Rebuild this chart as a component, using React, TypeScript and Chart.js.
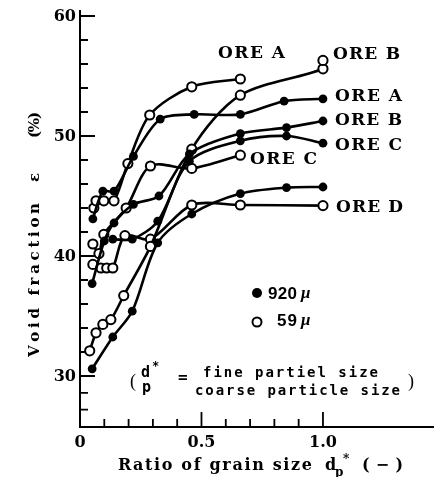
import React, { useEffect, useRef } from "react";
import { Chart, registerables } from "chart.js";
Chart.register(...registerables);

// axis ranges
const X_MIN = 0;
const X_MAX = 1.457;
const Y_MIN = 25.75;
const Y_MAX = 60.5;

// ---- data ----
const oreAFilledX = [0.053, 0.094, 0.14, 0.22, 0.33, 0.47, 0.66, 0.84, 1.0];
const oreAFilledY = [43.1, 45.4, 45.4, 48.3, 51.4, 51.8, 51.8, 52.9, 53.1];
const oreAOpenX = [0.057, 0.066, 0.098, 0.14, 0.197, 0.287, 0.46, 0.66];
const oreAOpenY = [44.0, 44.6, 44.6, 44.6, 47.7, 51.75, 54.1, 54.75];

const oreBFilledX = [0.05, 0.1, 0.14, 0.22, 0.325, 0.45, 0.66, 0.85, 1.0];
const oreBFilledY = [37.7, 41.25, 42.75, 44.3, 45.0, 48.5, 50.2, 50.7, 51.25];
const oreBOpenX = [0.04, 0.066, 0.094, 0.127, 0.18, 0.29, 0.46, 0.66, 1.0, 1.0];
const oreBOpenY = [32.1, 33.6, 34.3, 34.7, 36.7, 40.8, 48.9, 53.4, 55.6, 56.3];

const oreCFilledX = [0.135, 0.215, 0.32, 0.45, 0.66, 0.85, 1.0];
const oreCFilledY = [41.4, 41.4, 42.9, 47.9, 49.6, 50.0, 49.4];
const oreCOpenX = [0.053, 0.078, 0.098, 0.19, 0.29, 0.46, 0.66];
const oreCOpenY = [41.0, 40.2, 41.8, 44.0, 47.5, 47.3, 48.4];

const oreDFilledX = [0.05, 0.135, 0.215, 0.32, 0.46, 0.66, 0.85, 1.0];
const oreDFilledY = [30.6, 33.25, 35.4, 41.1, 43.5, 45.2, 45.7, 45.75];
const oreDOpenX = [0.053, 0.086, 0.11, 0.135, 0.185, 0.29, 0.46, 0.66, 1.0];
const oreDOpenY = [39.3, 39.0, 39.0, 39.0, 41.7, 41.4, 44.25, 44.25, 44.2];

// ---- ticks ----
const xMinorTicks = [0.1, 0.2, 0.3, 0.4, 0.6, 0.7, 0.8, 0.9];
const xMajorTicks = [0.5, 1.0];
const xTickLabelValues = [0, 0.5, 1.0];
const xTickLabels = ["0", "0.5", "1.0"];
const yMinorTicks = [27.2, 28.6, 32, 34, 36, 38, 42, 44, 46, 48, 52, 54, 56, 58];
const yMajorTicks = [30, 40, 50, 60];
const yTickLabels = ["30", "40", "50", "60"];

// ---- annotations ----
const oreLabels = ["ORE A", "ORE B", "ORE A", "ORE B", "ORE C", "ORE C", "ORE D"];
const legendLabels = ["920", "59"];

const pts = (xs: number[], ys: number[]) => xs.map((x, i) => ({ x, y: ys[i] }));

function spaced(ctx: CanvasRenderingContext2D, text: string, x: number, y: number, width: number) {
  const chars = Array.from(text);
  const ws = chars.map((c) => ctx.measureText(c).width);
  const nat = ws.reduce((a, b) => a + b, 0);
  const gap = chars.length > 1 ? (width - nat) / (chars.length - 1) : 0;
  let cx = x;
  ctx.textAlign = "left";
  chars.forEach((c, i) => {
    ctx.fillText(c, cx, y);
    cx += ws[i] + gap;
  });
}

const SERIF = "'DejaVu Serif', 'Liberation Serif', serif";
const SANS = "'Liberation Sans', Arial, sans-serif";
const MONO = "'DejaVu Sans Mono', 'Liberation Mono', monospace";

const overlay = {
  id: "overlay",
  beforeDatasetsDraw(chart: any) {
    const { ctx, chartArea, scales } = chart;
    const x = scales.x;
    const y = scales.y;
    const L = chartArea.left;
    const B = chartArea.bottom;
    ctx.save();
    ctx.strokeStyle = "#000";
    ctx.lineWidth = 2;
    ctx.beginPath();
    ctx.moveTo(L, chartArea.top);
    ctx.lineTo(L, B);
    ctx.lineTo(chartArea.right, B);
    ctx.stroke();
    ctx.lineWidth = 1.8;
    ctx.beginPath();
    yMinorTicks.forEach((v) => {
      const py = y.getPixelForValue(v);
      ctx.moveTo(L, py);
      ctx.lineTo(L + 8, py);
    });
    yMajorTicks.forEach((v) => {
      const py = y.getPixelForValue(v);
      ctx.moveTo(L, py);
      ctx.lineTo(L + 15, py);
    });
    xMinorTicks.forEach((v) => {
      const px = x.getPixelForValue(v);
      ctx.moveTo(px, B);
      ctx.lineTo(px, B - 8);
    });
    xMajorTicks.forEach((v) => {
      const px = x.getPixelForValue(v);
      ctx.moveTo(px, B);
      ctx.lineTo(px, B - 15);
    });
    ctx.stroke();
    ctx.restore();
  },
  afterDraw(chart: any) {
    const { ctx, scales } = chart;
    const x = scales.x;
    const y = scales.y;
    ctx.save();
    ctx.fillStyle = "#000";
    ctx.textBaseline = "middle";

    // tick labels
    ctx.font = `bold 16px ${SERIF}`;
    ctx.textAlign = "right";
    yMajorTicks.forEach((v, i) => {
      ctx.fillText(yTickLabels[i], 76, y.getPixelForValue(v) + 1);
    });
    ctx.font = `bold 16px ${SERIF}`;
    ctx.textAlign = "center";
    xTickLabelValues.forEach((v, i) => {
      ctx.fillText(xTickLabels[i], x.getPixelForValue(v), 443);
    });

    // x axis title
    ctx.font = `bold 16px ${SERIF}`;
    spaced(ctx, "Ratio of grain size", 118, 466, 194);
    ctx.textAlign = "left";
    ctx.fillText("d", 325, 466);
    ctx.font = `bold 12px ${SERIF}`;
    ctx.fillText("p", 335, 473);
    ctx.fillText("*", 343, 460);
    ctx.font = `bold 16px ${SERIF}`;
    spaced(ctx, "(\u2212)", 362, 466, 41);

    // y axis title (rotated)
    ctx.save();
    ctx.translate(35, 0);
    ctx.rotate(-Math.PI / 2);
    ctx.font = `bold 15px ${SERIF}`;
    spaced(ctx, "Void fraction", -357, 0, 154);
    ctx.fillText("\u03b5", -182, 0);
    spaced(ctx, "(%)", -138, 0, 26);
    ctx.restore();

    // ORE labels
    ctx.font = `bold 17px ${SERIF}`;
    const labPos = [
      [218, 54],
      [333, 55],
      [335, 97],
      [335, 121],
      [335, 146],
      [250, 160],
      [336, 208],
    ];
    oreLabels.forEach((t, i) => spaced(ctx, t, labPos[i][0], labPos[i][1], 67));

    // legend
    ctx.beginPath();
    ctx.arc(257, 293, 5, 0, Math.PI * 2);
    ctx.fill();
    ctx.beginPath();
    ctx.lineWidth = 2;
    ctx.strokeStyle = "#000";
    ctx.arc(257, 322, 4.5, 0, Math.PI * 2);
    ctx.stroke();
    ctx.font = `bold 17px ${SANS}`;
    spaced(ctx, legendLabels[0], 268, 294, 29);
    spaced(ctx, legendLabels[1], 277, 321, 20);
    ctx.font = `italic bold 17px 'Liberation Serif', serif`;
    ctx.textAlign = "left";
    ctx.fillText("\u03bc", 301, 294);
    ctx.fillText("\u03bc", 301, 321);

    // formula
    ctx.font = `18px 'Liberation Serif', serif`;
    ctx.fillText("(", 130, 382);
    ctx.fillText(")", 408, 382);
    ctx.font = `bold 15px ${MONO}`;
    ctx.fillText("d", 141, 373);
    ctx.fillText("p", 142, 388);
    ctx.font = `bold 12px ${MONO}`;
    ctx.fillText("*", 152, 367);
    ctx.font = `bold 16px ${MONO}`;
    ctx.fillText("=", 178, 378);
    ctx.font = `bold 14px ${MONO}`;
    spaced(ctx, "fine partiel size", 203, 373, 175);
    spaced(ctx, "coarse particle size", 195, 391, 205);

    ctx.restore();
  },
};

function ds(xs: number[], ys: number[], open: boolean) {
  return {
    data: pts(xs, ys),
    showLine: true,
    tension: 0.3,
    borderColor: "#000",
    borderWidth: 2.6,
    pointRadius: open ? 4.6 : 4.4,
    pointBackgroundColor: open ? "#fff" : "#000",
    pointBorderColor: "#000",
    pointBorderWidth: open ? 2 : 0,
    clip: false as any,
  };
}

export default function App() {
  const ref = useRef<HTMLCanvasElement | null>(null);
  useEffect(() => {
    document.body.style.margin = "0";
    const canvas = ref.current;
    if (!canvas) return;
    const chart = new Chart(canvas, {
      type: "scatter",
      data: {
        datasets: [
          ds(oreAFilledX, oreAFilledY, false),
          ds(oreBFilledX, oreBFilledY, false),
          ds(oreCFilledX, oreCFilledY, false),
          ds(oreDFilledX, oreDFilledY, false),
          ds(oreAOpenX, oreAOpenY, true),
          ds(oreBOpenX, oreBOpenY, true),
          ds(oreCOpenX, oreCOpenY, true),
          ds(oreDOpenX, oreDOpenY, true),
        ] as any,
      },
      options: {
        animation: false,
        responsive: false,
        layout: { padding: { top: 10, left: 0, right: 0, bottom: 0 }, autoPadding: false } as any,
        plugins: { legend: { display: false }, tooltip: { enabled: false } },
        scales: {
          x: {
            type: "linear",
            min: X_MIN,
            max: X_MAX,
            ticks: { display: false },
            grid: { display: false },
            border: { display: false },
            afterFit: (s: any) => {
              s.height = 50;
            },
          },
          y: {
            type: "linear",
            min: Y_MIN,
            max: Y_MAX,
            ticks: { display: false },
            grid: { display: false },
            border: { display: false },
            afterFit: (s: any) => {
              s.width = 80;
            },
          },
        },
      },
      plugins: [overlay],
    });
    return () => chart.destroy();
  }, []);
  return (
    <div style={{ width: 434, height: 477, background: "#fff" }}>
      <canvas ref={ref} width={434} height={477} style={{ display: "block" }} />
    </div>
  );
}
